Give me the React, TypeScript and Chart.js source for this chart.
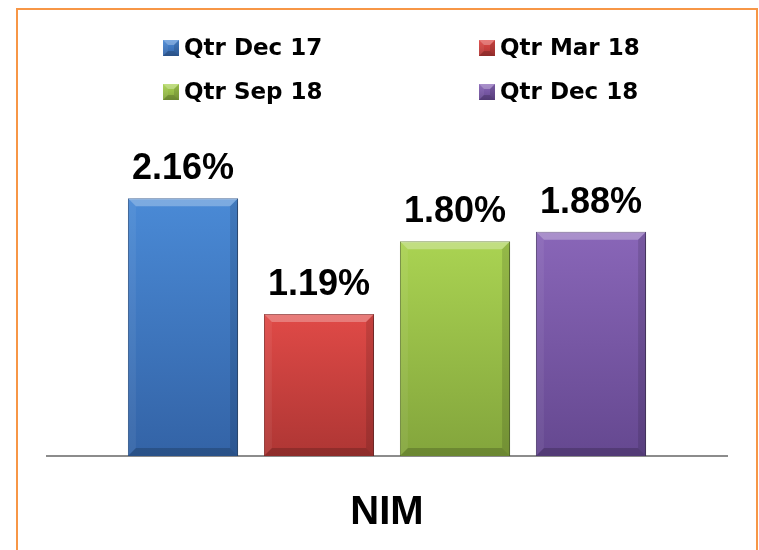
import { useEffect, useRef } from "react";
import { Chart, registerables } from "chart.js";

Chart.register(...registerables);

const categories = ["NIM"];
const seriesLabels = ["Qtr Dec 17", "Qtr Mar 18", "Qtr Sep 18", "Qtr Dec 18"];
const qtrDec17 = [2.16];
const qtrMar18 = [1.19];
const qtrSep18 = [1.8];
const qtrDec18 = [1.88];
const seriesValues = [qtrDec17, qtrMar18, qtrSep18, qtrDec18];
const yMin = 0;
const yMax = 3;

const palette = [
  { top: "#4A8AD6", bottom: "#3363A6", edge: "#2B5690" },
  { top: "#E04A47", bottom: "#AE3634", edge: "#8F2A28" },
  { top: "#AAD352", bottom: "#83A53C", edge: "#6A8830" },
  { top: "#8966B8", bottom: "#654890", edge: "#503A74" },
];

const LEGEND_FONT = "bold 23px 'DejaVu Sans'";
const LABEL_FONT = "bold 36px 'Liberation Sans'";

function bevel(ctx: CanvasRenderingContext2D, l: number, t: number, r: number, b: number, s: number) {
  const poly = (pts: number[][], color: string) => {
    ctx.beginPath();
    ctx.moveTo(pts[0][0], pts[0][1]);
    for (let i = 1; i < pts.length; i++) ctx.lineTo(pts[i][0], pts[i][1]);
    ctx.closePath();
    ctx.fillStyle = color;
    ctx.fill();
  };
  poly([[l, t], [r, t], [r - s, t + s], [l + s, t + s]], "rgba(255,255,255,0.28)");
  poly([[l, t], [l + s, t + s], [l + s, b - s], [l, b]], "rgba(255,255,255,0.06)");
  poly([[r, t], [r, b], [r - s, b - s], [r - s, t + s]], "rgba(0,0,0,0.12)");
  poly([[l, b], [l + s, b - s], [r - s, b - s], [r, b]], "rgba(0,0,0,0.18)");
}

const framePlugin = {
  id: "frame",
  beforeDraw(chart: any) {
    const ctx = chart.ctx as CanvasRenderingContext2D;
    ctx.save();
    ctx.fillStyle = "#ffffff";
    ctx.fillRect(0, 0, chart.width, chart.height);
    ctx.strokeStyle = "#F79646";
    ctx.lineWidth = 2;
    ctx.strokeRect(17, 9, 740, 700);
    ctx.restore();
  },
  beforeDatasetsDraw(chart: any) {
    const ctx = chart.ctx as CanvasRenderingContext2D;
    ctx.save();
    ctx.shadowColor = "rgba(0,0,0,0.35)";
    ctx.shadowBlur = 7;
    ctx.shadowOffsetX = 2;
    ctx.shadowOffsetY = 3;
  },
  afterDatasetsDraw(chart: any) {
    const ctx = chart.ctx as CanvasRenderingContext2D;
    ctx.restore();
    chart.data.datasets.forEach((ds: any, i: number) => {
      const meta = chart.getDatasetMeta(i);
      meta.data.forEach((el: any, j: number) => {
        const p = el.getProps(["x", "y", "base", "width"], true);
        const l = p.x - p.width / 2;
        const r = p.x + p.width / 2;
        bevel(ctx, l, p.y, r, p.base, 8);
        ctx.save();
        ctx.font = LABEL_FONT;
        ctx.fillStyle = "#000000";
        ctx.textAlign = "center";
        ctx.textBaseline = "alphabetic";
        ctx.fillText(Number(ds.data[j]).toFixed(2) + "%", p.x, p.y - 19);
        ctx.restore();
      });
    });
  },
  afterDraw(chart: any) {
    const ctx = chart.ctx as CanvasRenderingContext2D;
    const colX = [163, 479];
    const rowY = [55, 99];
    chart.data.datasets.forEach((ds: any, i: number) => {
      const x = colX[i % 2];
      const base = rowY[Math.floor(i / 2)];
      const top = base - 15;
      const size = 16;
      const c = palette[i];
      ctx.save();
      const g = ctx.createLinearGradient(0, top, 0, top + size);
      g.addColorStop(0, c.top);
      g.addColorStop(1, c.bottom);
      ctx.fillStyle = g;
      ctx.fillRect(x, top, size, size);
      bevel(ctx, x, top, x + size, top + size, 5);
      ctx.font = LEGEND_FONT;
      ctx.fillStyle = "#000000";
      ctx.textAlign = "left";
      ctx.textBaseline = "alphabetic";
      ctx.fillText(ds.label, x + 21, base);
      ctx.restore();
    });
  },
};

export default function App() {
  const ref = useRef<HTMLCanvasElement | null>(null);
  useEffect(() => {
    if (!ref.current) return;
    const chart = new Chart(ref.current, {
      type: "bar",
      data: {
        labels: categories,
        datasets: seriesValues.map((vals, i) => ({
          label: seriesLabels[i],
          data: vals,
          clip: false as any,
          borderWidth: 1,
          borderColor: palette[i].edge,
          backgroundColor: (ctx: any) => {
            const chart = ctx.chart;
            const ys = chart.scales?.y;
            const area = chart.chartArea;
            if (!ys || !area || ctx.parsed == null) return palette[i].top;
            const top = ys.getPixelForValue(ctx.parsed.y);
            const bottom = ys.getPixelForValue(0);
            const g = chart.ctx.createLinearGradient(0, top, 0, bottom);
            g.addColorStop(0, palette[i].top);
            g.addColorStop(1, palette[i].bottom);
            return g;
          },
          categoryPercentage: 0.8,
          barPercentage: 0.81,
        })),
      },
      options: {
        responsive: false,
        animation: false,
        layout: { padding: { left: 47, right: 32, top: 98, bottom: 13 } },
        plugins: {
          legend: { display: false },
          tooltip: { enabled: false },
        },
        scales: {
          x: {
            grid: { display: false, drawTicks: false },
            border: { display: true, color: "#8C8C8C", width: 2 },
            ticks: {
              color: "#000000",
              padding: 33,
              font: { family: "'Liberation Sans'", size: 40, weight: "bold", lineHeight: 1.2 },
            },
            afterFit: (scale: any) => {
              scale.height = 81;
            },
          },
          y: {
            display: false,
            min: yMin,
            max: yMax,
          },
        },
      },
      plugins: [framePlugin],
    });
    return () => chart.destroy();
  }, []);
  return (
    <div style={{ position: "fixed", left: 0, top: 0, width: 759, height: 550 }}>
      <canvas ref={ref} width={759} height={550} style={{ display: "block" }} />
    </div>
  );
}
